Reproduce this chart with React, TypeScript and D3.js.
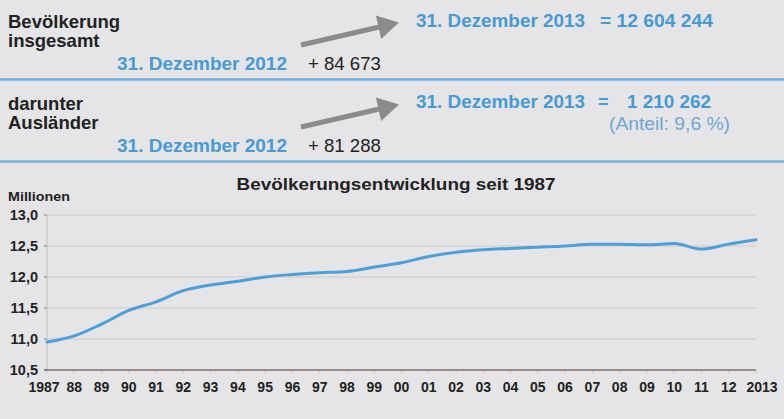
import React from "react";
import * as d3 from "d3";

const years = [1987,1988,1989,1990,1991,1992,1993,1994,1995,1996,1997,1998,1999,2000,2001,2002,2003,2004,2005,2006,2007,2008,2009,2010,2011,2012,2013];
const yearLabels = ["1987","88","89","90","91","92","93","94","95","96","97","98","99","00","01","02","03","04","05","06","07","08","09","10","11","12","2013"];
const population = [10.95,11.05,11.24,11.46,11.60,11.78,11.87,11.93,12.00,12.04,12.07,12.09,12.16,12.23,12.33,12.40,12.44,12.46,12.48,12.50,12.53,12.53,12.52,12.54,12.45,12.53,12.60];
const yTicks = [10.5,11.0,11.5,12.0,12.5,13.0];

const BLUE = "#479ad3";
const DARK = "#222222";
const FONT = "'Liberation Sans', Arial, Helvetica, sans-serif";

function Arrow({ x1, y1, x2, y2 }: { x1: number; y1: number; x2: number; y2: number }) {
  const dx = x2 - x1, dy = y2 - y1;
  const len = Math.hypot(dx, dy);
  const ux = dx / len, uy = dy / len;
  const px = -uy, py = ux;
  const headLen = 21, headW = 12;
  const bx = x2 - ux * headLen, by = y2 - uy * headLen;
  const head = `M${x2},${y2}L${bx + px * headW},${by + py * headW}L${bx - px * headW},${by - py * headW}Z`;
  return (
    <g>
      <line x1={x1} y1={y1} x2={bx + ux * 2} y2={by + uy * 2} stroke="#8b8b8d" strokeWidth={5} />
      <path d={head} fill="#8b8b8d" />
    </g>
  );
}

export default function App() {
  const W = 784, H = 419;
  const x = d3.scaleLinear().domain([1987, 2013]).range([47, 756]);
  const y = d3.scaleLinear().domain([10.5, 13.0]).range([370, 215]);
  const line = d3.line<number>().x((_, i) => x(years[i])).y((d) => y(d)).curve(d3.curveMonotoneX);
  const fmt = (v: number) => v.toFixed(1).replace(".", ",");

  const block = (off: number, l1: string, l2: string, change: string) => (
    <g transform={`translate(0,${off})`}>
      <text x={8} y={27.5} fontSize={18.5} fontWeight="bold" fill={DARK}>{l1}</text>
      <text x={8} y={46.5} fontSize={18.5} fontWeight="bold" fill={DARK}>{l2}</text>
      <text x={117} y={69.5} fontSize={18} fontWeight="bold" fill={BLUE} textLength={170} lengthAdjust="spacingAndGlyphs">31. Dezember 2012</text>
      <text x={308} y={69.5} fontSize={18.6} fill={DARK}>{change}</text>
      <Arrow x1={301} y1={45} x2={399} y2={22.5} />
    </g>
  );

  return (
    <svg width={W} height={H} style={{ position: "absolute", left: 0, top: 0, fontFamily: FONT }}>
      <rect width={W} height={H} fill="#e5e5e7" />
      {block(0, "Bevölkerung", "insgesamt", "+ 84 673")}
      <text x={416} y={27} fontSize={18} fontWeight="bold" fill={BLUE} textLength={169} lengthAdjust="spacingAndGlyphs">31. Dezember 2013</text>
      <text x={600} y={27} fontSize={18} fontWeight="bold" fill={BLUE} textLength={113} lengthAdjust="spacingAndGlyphs">= 12 604 244</text>
      <line x1={0} x2={W} y1={79.5} y2={79.5} stroke="#72afde" strokeWidth={2.5} />

      {block(82, "darunter", "Ausländer", "+ 81 288")}
      <text x={416} y={107.5} fontSize={18} fontWeight="bold" fill={BLUE} textLength={169} lengthAdjust="spacingAndGlyphs">31. Dezember 2013</text>
      <text x={598} y={107.5} fontSize={18} fontWeight="bold" fill={BLUE}>=</text>
      <text x={627} y={107.5} fontSize={18} fontWeight="bold" fill={BLUE} textLength={84} lengthAdjust="spacingAndGlyphs">1 210 262</text>
      <text x={609} y={130} fontSize={17.5} fill="#6ea7d6" textLength={121} lengthAdjust="spacingAndGlyphs">(Anteil: 9,6 %)</text>
      <line x1={0} x2={W} y1={161.5} y2={161.5} stroke="#72afde" strokeWidth={2.5} />

      <text x={396} y={190} fontSize={17} fontWeight="bold" fill={DARK} textAnchor="middle" textLength={319} lengthAdjust="spacingAndGlyphs">Bevölkerungsentwicklung seit 1987</text>
      <text x={8} y={200.5} fontSize={12} fontWeight="bold" fill={DARK} textLength={62} lengthAdjust="spacingAndGlyphs">Millionen</text>

      {yTicks.slice(1).map((t) => (
        <line key={"g" + t} x1={x(1987)} x2={x(2013)} y1={y(t)} y2={y(t)} stroke="#d2c8c6" strokeWidth={1} />
      ))}
      <line x1={x(1987)} x2={x(1987)} y1={y(13)} y2={y(10.5)} stroke="#c9bfbd" strokeWidth={1} />
      {yTicks.map((t) => (
        <g key={"y" + t}>
          <line x1={x(1987) - 3} x2={x(1987)} y1={y(t)} y2={y(t)} stroke="#8a7c78" strokeWidth={1} />
          <text x={38} y={y(t)} dy="0.36em" textAnchor="end" fontSize={14.5} fontWeight="bold" fill={DARK}>{fmt(t)}</text>
        </g>
      ))}
      {years.map((yr, i) => (
        <g key={"x" + yr}>
          <line x1={x(yr)} x2={x(yr)} y1={y(10.5)} y2={y(10.5) + 3} stroke="#cfc6c3" strokeWidth={1} />
          <text x={i === 0 ? x(yr) - 3 : i === years.length - 1 ? x(yr) + 6 : x(yr)} y={391.7} textAnchor="middle" fontSize={14} fontWeight="bold" fill={DARK}>{yearLabels[i]}</text>
        </g>
      ))}
      <line x1={x(1987) - 3} x2={x(2013)} y1={y(10.5)} y2={y(10.5)} stroke="#7d6f6b" strokeWidth={1.5} />

      <path d={line(population) || ""} fill="none" stroke="#4ba0d9" strokeWidth={3} strokeLinejoin="round" strokeLinecap="round" />
    </svg>
  );
}
